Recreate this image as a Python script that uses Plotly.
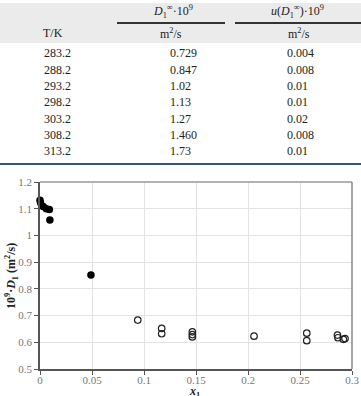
import plotly.graph_objects as go

# ---- table data ----
temps = ["283.2", "288.2", "293.2", "298.2", "303.2", "308.2", "313.2"]
d_inf = ["0.729", "0.847", "1.02", "1.13", "1.27", "1.460", "1.73"]
u_d_inf = ["0.004", "0.008", "0.01", "0.01", "0.02", "0.008", "0.01"]

# ---- chart data ----
x_filled = [0.0, 0.0005, 0.003, 0.006, 0.009, 0.0095, 0.049]
y_filled = [1.132, 1.122, 1.108, 1.100, 1.097, 1.058, 0.852]
x_open = [0.094, 0.117, 0.117, 0.1465, 0.1465, 0.1465, 0.2058, 0.2565, 0.2565,
          0.286, 0.2865, 0.2917, 0.2933]
y_open = [0.683, 0.652, 0.632, 0.639, 0.629, 0.620, 0.623, 0.634, 0.606,
          0.627, 0.617, 0.611, 0.614]

W, H = 361, 396
L, R, T, B = 40, 352, 182, 369


def px(x):
    return (x - L) / (R - L)


def py(y):
    return (B - y) / (B - T)


fig = go.Figure()
fig.add_trace(go.Scatter(x=x_filled, y=y_filled, mode="markers",
                         marker=dict(size=7.5, color="black"), showlegend=False,
                         cliponaxis=False))
fig.add_trace(go.Scatter(x=x_open, y=y_open, mode="markers",
                         marker=dict(size=6.5, color="rgba(0,0,0,0)",
                                     line=dict(color="#222", width=1.2)),
                         showlegend=False))

serif = "'Liberation Serif', 'DejaVu Serif', Times, serif"
shapes = []
# header background
shapes.append(dict(type="rect", xref="paper", yref="paper", x0=px(0), x1=px(W),
                   y0=py(43), y1=py(3), fillcolor="#ebebeb", line=dict(width=0), layer="below"))
# header rules
shapes.append(dict(type="line", xref="paper", yref="paper", x0=px(117), x1=px(225),
                   y0=py(23), y1=py(23), line=dict(color="#333", width=2)))
shapes.append(dict(type="line", xref="paper", yref="paper", x0=px(235), x1=px(W),
                   y0=py(23), y1=py(23), line=dict(color="#333", width=2)))
# blue separator
shapes.append(dict(type="line", xref="paper", yref="paper", x0=px(0), x1=px(W),
                   y0=py(164), y1=py(164), line=dict(color="#34508f", width=2)))
# top/right frame
shapes.append(dict(type="line", xref="paper", yref="paper", x0=0, x1=1, y0=1, y1=1,
                   line=dict(color="#999", width=1.5)))
shapes.append(dict(type="line", xref="paper", yref="paper", x0=1, x1=1, y0=0, y1=1,
                   line=dict(color="#888", width=1.5)))

ann = []
tfont = dict(family=serif, size=12, color="#222")


def text(x, y, s, xanchor="center", angle=0, yanchor="middle"):
    ann.append(dict(xref="paper", yref="paper", x=px(x), y=py(y), text=s,
                    showarrow=False, xanchor=xanchor, yanchor=yanchor, font=tfont,
                    textangle=angle, borderpad=0))


text(173, 12, "<i>D</i><sub>1</sub><sup>∞</sup>·10<sup>9</sup>")
text(297, 12, "<i>u</i>(<i>D</i><sub>1</sub><sup>∞</sup>)·10<sup>9</sup>")
text(53, 33, "T/K")
text(171, 33, "m<sup>2</sup>/s")
text(299, 33, "m<sup>2</sup>/s")
row_y = [53, 69.5, 86, 102, 118.5, 135, 151]
for i, (t, d, u) in enumerate(zip(temps, d_inf, u_d_inf)):
    text(43, row_y[i], t, "left")
    text(169, row_y[i], d, "left")
    text(286, row_y[i], u, "left")

# axis titles
text(194, 392, "<b><i>x</i><sub>1</sub></b>")
text(11, 276, "<b>10<sup>9</sup>·<i>D</i><sub>1</sub> (m<sup>2</sup>/s)</b>", angle=-90)

fig.update_layout(
    width=W, height=H,
    margin=dict(l=L, r=W - R, t=T, b=H - B, autoexpand=False),
    paper_bgcolor="white", plot_bgcolor="white",
    shapes=shapes, annotations=ann,
    font=dict(family=serif, size=11, color="#666"),
    xaxis=dict(range=[0, 0.3], dtick=0.05, tick0=0, showgrid=True, gridcolor="#e3e3e3",
               gridwidth=1, zeroline=False, showline=True, linecolor="#555", linewidth=1.5,
               ticks="outside", ticklen=4, tickcolor="#555", automargin=False,
               ticklabelstandoff=-4,
               tickfont=dict(family=serif, size=11, color="#777")),
    yaxis=dict(range=[0.5, 1.2], dtick=0.1, tick0=0.5, showgrid=True, gridcolor="#e3e3e3",
               gridwidth=1, zeroline=False, showline=True, linecolor="#555", linewidth=1.5,
               ticks="outside", ticklen=4, tickcolor="#555", automargin=False,
               tickfont=dict(family=serif, size=11, color="#777")),
)

fig.write_html("out.html")
